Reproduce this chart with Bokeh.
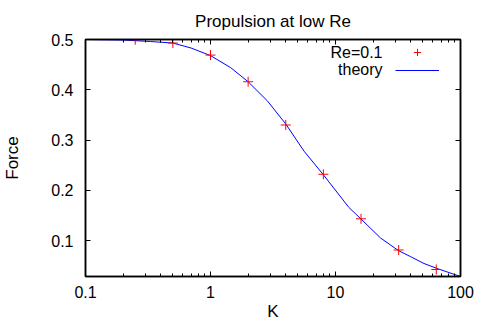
from bokeh.plotting import figure
from bokeh.models import (Range1d, FixedTicker, LogAxis, LinearAxis, CustomJSTickFormatter,
                          Legend, LegendItem, Label)
from bokeh.embed import file_html
from bokeh.resources import INLINE

# ---- data ----
k_sim = [0.1, 0.25, 0.5, 1, 2, 4, 8, 16, 32, 64, 100]
f_sim = [0.5, 0.4995, 0.493, 0.469, 0.416, 0.330, 0.232, 0.1434, 0.0814, 0.0426, 0.0287]

k_theory = [0.1, 0.2, 0.33, 0.5, 0.7, 1, 1.45, 2, 2.85, 4, 5.6, 8, 12.8, 16, 23, 32, 40, 51, 65, 100]
f_theory = [0.5, 0.499, 0.496, 0.493, 0.483, 0.468, 0.444, 0.416, 0.378, 0.332, 0.278, 0.231,
            0.166, 0.143, 0.105, 0.080, 0.068, 0.0546, 0.0446, 0.0287]

x_major = [0.1, 1, 10, 100]
x_minor = [0.2, 0.3, 0.4, 0.5, 0.6, 0.7, 0.8, 0.9,
           2, 3, 4, 5, 6, 7, 8, 9,
           20, 30, 40, 50, 60, 70, 80, 90]
y_major = [0.1, 0.2, 0.3, 0.4, 0.5]

series_names = ["Re=0.1", "theory"]
title_text = "Propulsion at low Re"
x_label = "K"
y_label = "Force"

FONT = "Liberation Sans"
FS = "16px"
FS_BIG = "17px"

p = figure(width=477, height=324, x_axis_type="log",
           x_range=Range1d(0.1, 100), y_range=Range1d(0.0287, 0.5),
           output_backend="svg", toolbar_location=None,
           min_border_left=85, min_border_right=17, min_border_top=39, min_border_bottom=48)

p.title.text = title_text
p.title.align = "center"
p.title.text_font = FONT
p.title.text_font_size = FS_BIG
p.title.text_font_style = "normal"
p.title.text_color = "black"
p.title.standoff = 18

p.xgrid.visible = False
p.ygrid.visible = False
p.outline_line_color = "black"
p.outline_line_width = 1.5

xfmt = CustomJSTickFormatter(code="return String(Number(tick.toPrecision(6)));")


def style_axis(ax, show_labels):
    ax.axis_line_color = "black"
    ax.axis_line_width = 1.5
    ax.major_tick_in = 5
    ax.major_tick_out = 0
    ax.minor_tick_in = 3
    ax.minor_tick_out = 0
    ax.major_tick_line_color = "black"
    ax.minor_tick_line_color = "black"
    ax.major_label_text_font = FONT
    ax.major_label_text_font_size = FS
    ax.major_label_text_color = "black"
    ax.axis_label_text_font = FONT
    ax.axis_label_text_font_size = FS_BIG
    ax.axis_label_text_font_style = "normal"
    ax.axis_label_text_color = "black"
    if not show_labels:
        ax.major_label_text_alpha = 0
        ax.major_label_text_font_size = "1px"
        ax.major_label_standoff = 0


xt = FixedTicker(ticks=x_major, minor_ticks=x_minor)
yt = FixedTicker(ticks=y_major, minor_ticks=[])

xa = p.xaxis[0]
xa.ticker = xt
xa.formatter = xfmt
style_axis(xa, True)
xa.major_label_standoff = 9
xa.axis_label = x_label
xa.axis_label_standoff = 1

ya = p.yaxis[0]
ya.ticker = yt
style_axis(ya, True)
ya.major_label_standoff = 12
ya.axis_label = y_label
ya.axis_label_standoff = 26

top = LogAxis(ticker=FixedTicker(ticks=x_major, minor_ticks=x_minor), formatter=xfmt)
style_axis(top, False)
p.add_layout(top, "above")

right = LinearAxis(ticker=FixedTicker(ticks=y_major, minor_ticks=[]))
style_axis(right, False)
p.add_layout(right, "right")

r_th = p.line(k_theory, f_theory, line_color="blue", line_width=1)
r_sim = p.scatter(k_sim, f_sim, marker="cross", size=10, line_color="red", line_width=1)

legend = Legend(items=[LegendItem(label=" ", renderers=[r_sim]),
                       LegendItem(label=" ", renderers=[r_th])],
                location=(310, 197), glyph_width=44, glyph_height=18,
                label_height=18, label_width=0, label_standoff=0,
                padding=0, spacing=0, margin=0,
                border_line_color=None, background_fill_alpha=0,
                label_text_font_size="1px")
p.add_layout(legend)

for name, yv in zip(series_names, [0.4742, 0.4403]):
    p.add_layout(Label(x=23.77, y=yv, text=name, text_align="right", text_baseline="middle",
                       text_font=FONT, text_font_size=FS, text_color="black"))

open("out.html", "w").write(file_html(p, INLINE))
